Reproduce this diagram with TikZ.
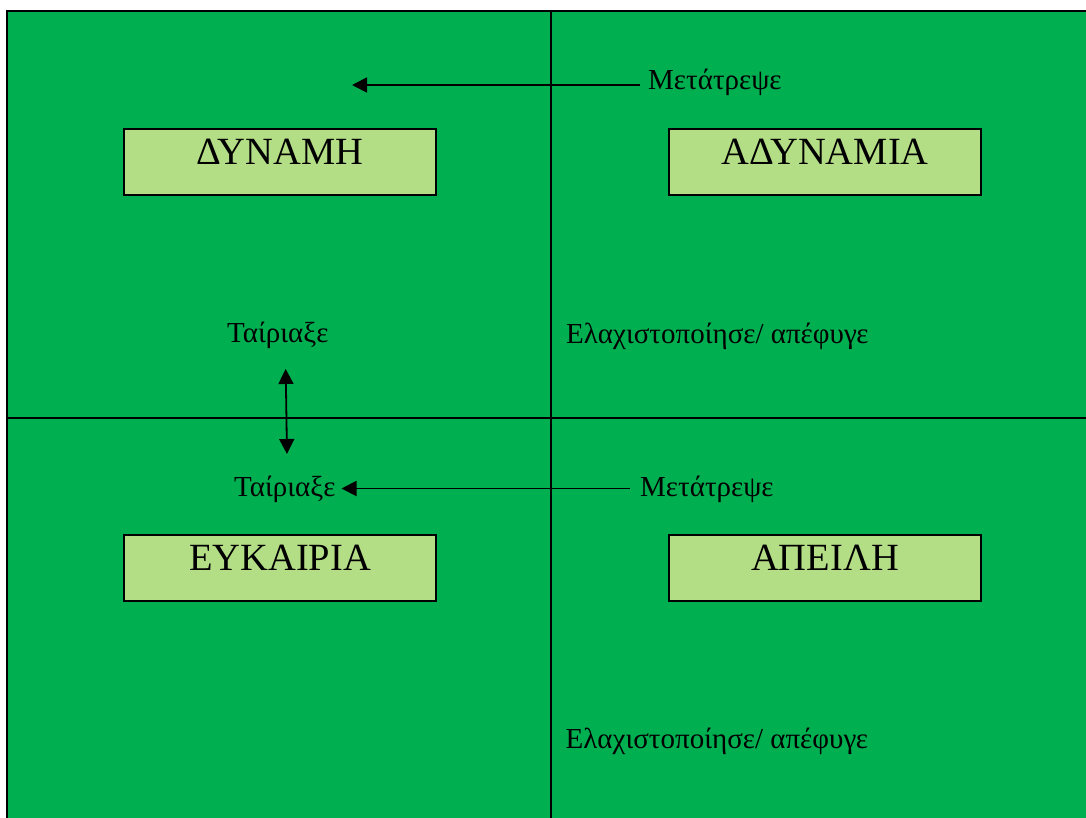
\documentclass[tikz,border=0pt]{standalone}
\usepackage{fontspec}
\setmainfont{Liberation Serif}
\usetikzlibrary{arrows.meta}
\definecolor{bg}{RGB}{0,176,80}
\definecolor{boxfill}{RGB}{180,222,134}
\begin{document}
\begin{tikzpicture}[x=1pt,y=-1pt,
  quad/.style={draw=black, line width=2.2pt, fill=boxfill, minimum width=312pt, minimum height=66pt, inner sep=0pt},
  boxtext/.style={font=\fontsize{38.5}{42}\selectfont, anchor=base, inner sep=0pt},
  lbl/.style={font=\fontsize{29}{33}\selectfont, anchor=base west, inner sep=0pt},
  arr/.style={line width=1.8pt, -{Triangle[length=15pt,width=15pt]}},
  dblarr/.style={line width=1.8pt, {Triangle[length=15pt,width=15pt]}-{Triangle[length=15pt,width=15pt]}},
  gridline/.style={line width=1.8pt}]
\useasboundingbox (0,0) rectangle (1086,817);
\fill[bg] (7,11) rectangle (1095,825);
\draw[gridline] (1095,11) -- (7,11) -- (7,825);
\draw[gridline] (551,11) -- (551,825);
\draw[gridline] (7,418) -- (1095,418);

\node[quad] (sbox) at (280,162) {};
\node[quad] (wbox) at (825,162) {};
\node[quad] (obox) at (280,568) {};
\node[quad] (tbox) at (825,568) {};
\node[boxtext] (s) at (280,164.5) {ΔΥΝΑΜΗ};
\node[boxtext] (w) at (825,164.5) {ΑΔΥΝΑΜΙΑ};
\node[boxtext] (o) at (280,570.5) {ΕΥΚΑΙΡΙΑ};
\node[boxtext] (t) at (825,570.5) {ΑΠΕΙΛΗ};

\node[lbl] (mt1) at (648,89) {Μετάτρεψε};
\node[lbl] (mt2) at (640,496.5) {Μετάτρεψε};
\node[lbl] (tr1) at (227,342.5) {Ταίριαξε};
\node[lbl] (tr2) at (234,496.5) {Ταίριαξε};
\node[lbl] (el1) at (566,343) {Ελαχιστοποίησε/ απέφυγε};
\node[lbl] (el2) at (565.5,748) {Ελαχιστοποίησε/ απέφυγε};

\coordinate (a1s) at (640,85);
\coordinate (a1e) at (352,85);
\coordinate (a2s) at (630,488.5);
\coordinate (a2e) at (341.5,488.5);
\coordinate (d1) at (285.7,369);
\coordinate (d2) at (287,454);
\draw[arr] (a1s) -- (a1e);
\draw[arr] (a2s) -- (a2e);
\draw[dblarr] (d1) -- (d2);
\end{tikzpicture}
\end{document}
